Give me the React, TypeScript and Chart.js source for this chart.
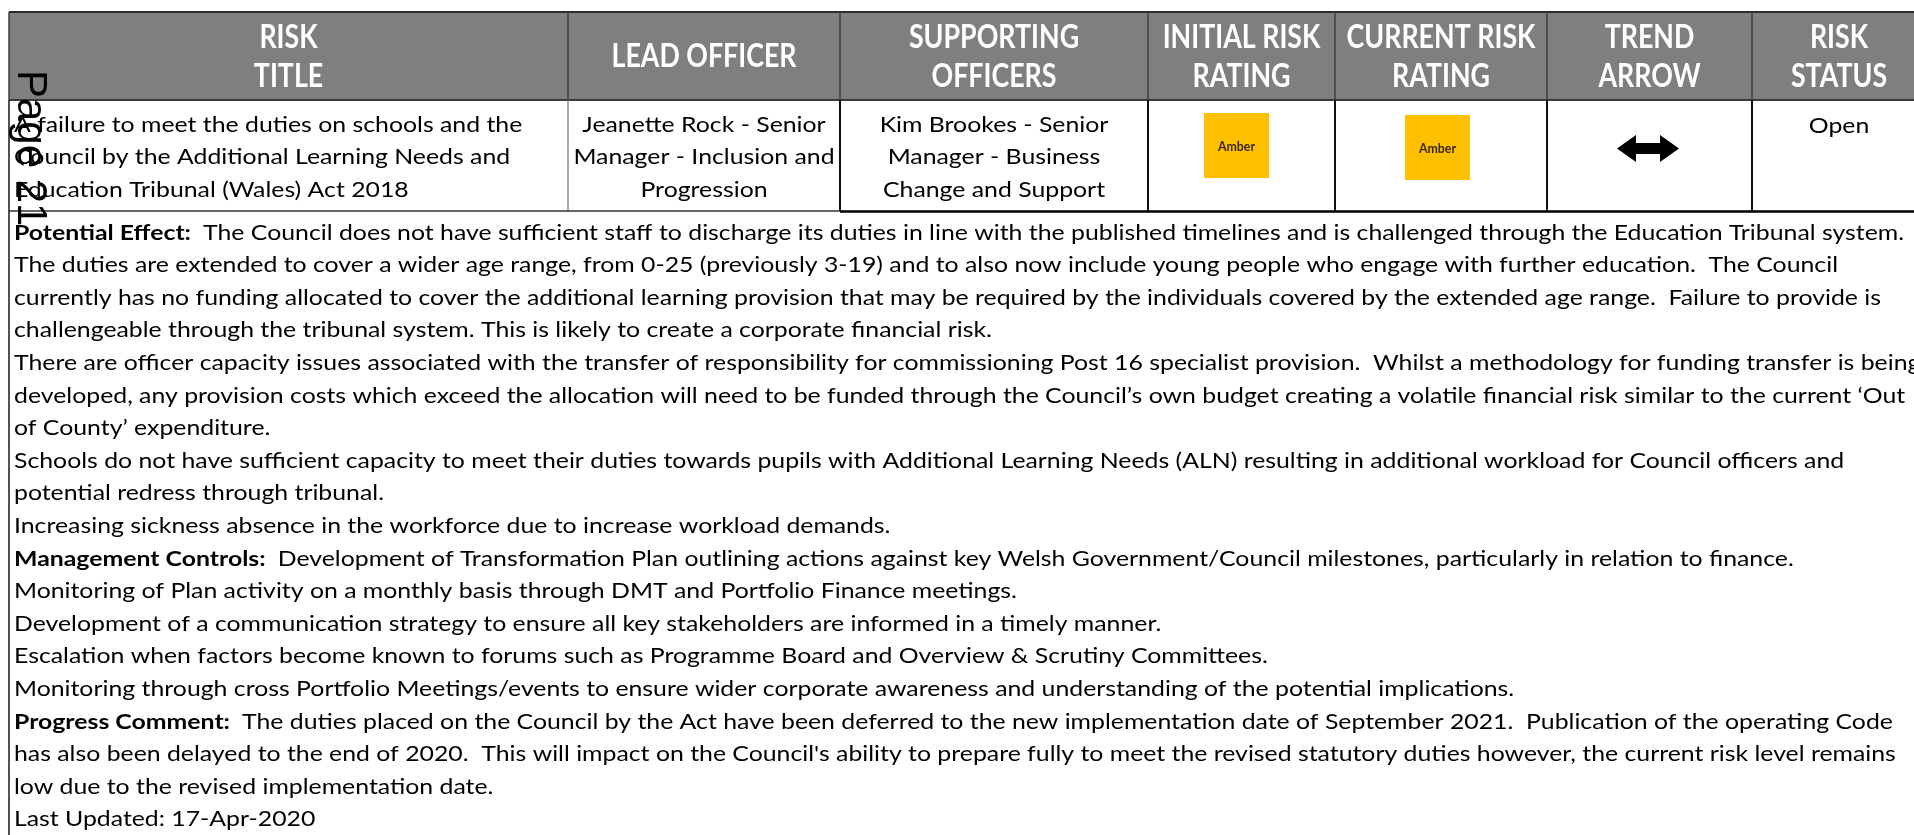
import React, { useEffect, useRef } from "react";
import { Chart, registerables } from "chart.js";

Chart.register(...registerables);

// ---------- DATA ----------
const headerLabels: string[][] = [
  ["RISK", "TITLE"],
  ["LEAD OFFICER"],
  ["SUPPORTING", "OFFICERS"],
  ["INITIAL RISK", "RATING"],
  ["CURRENT RISK", "RATING"],
  ["TREND", "ARROW"],
  ["RISK", "STATUS"],
];

const riskTitleLines = [
  "A failure to meet the duties on schools and the",
  "Council by the Additional Learning Needs and",
  "Education Tribunal (Wales) Act 2018",
];
const leadOfficerLines = ["Jeanette Rock - Senior", "Manager - Inclusion and", "Progression"];
const supportingOfficerLines = ["Kim Brookes - Senior", "Manager - Business", "Change and Support"];
const initialRiskRating = "Amber";
const currentRiskRating = "Amber";
const trendArrow = "level"; // double-headed horizontal arrow
const riskStatus = "Open";

const sectionLabels = ["Potential Effect:", "Management Controls:", "Progress Comment:", "Last Updated:"];

const potentialEffectLines = [
  "The Council does not have sufficient staff to discharge its duties in line with the published timelines and is challenged through the Education Tribunal system.",
  "The duties are extended to cover a wider age range, from 0-25 (previously 3-19) and to also now include young people who engage with further education.  The Council",
  "currently has no funding allocated to cover the additional learning provision that may be required by the individuals covered by the extended age range.  Failure to provide is",
  "challengeable through the tribunal system. This is likely to create a corporate financial risk.",
  "There are officer capacity issues associated with the transfer of responsibility for commissioning Post 16 specialist provision.  Whilst a methodology for funding transfer is being",
  "developed, any provision costs which exceed the allocation will need to be funded through the Council\u2019s own budget creating a volatile financial risk similar to the current \u2018Out",
  "of County\u2019 expenditure.",
  "Schools do not have sufficient capacity to meet their duties towards pupils with Additional Learning Needs (ALN) resulting in additional workload for Council officers and",
  "potential redress through tribunal.",
  "Increasing sickness absence in the workforce due to increase workload demands.",
];
const managementControlsLines = [
  "Development of Transformation Plan outlining actions against key Welsh Government/Council milestones, particularly in relation to finance.",
  "Monitoring of Plan activity on a monthly basis through DMT and Portfolio Finance meetings.",
  "Development of a communication strategy to ensure all key stakeholders are informed in a timely manner.",
  "Escalation when factors become known to forums such as Programme Board and Overview & Scrutiny Committees.",
  "Monitoring through cross Portfolio Meetings/events to ensure wider corporate awareness and understanding of the potential implications.",
];
const progressCommentLines = [
  "The duties placed on the Council by the Act have been deferred to the new implementation date of September 2021.  Publication of the operating Code",
  "has also been delayed to the end of 2020.  This will impact on the Council's ability to prepare fully to meet the revised statutory duties however, the current risk level remains",
  "low due to the revised implementation date.",
];
const lastUpdatedValue = "17-Apr-2020";
const pageMarker = "Page 21";

// ---------- LAYOUT / STYLE ----------
const W = 1914;
const H = 835;
const COLS = [9, 568, 840, 1148, 1335, 1547, 1752, 1926];
const HEAD_TOP = 12;
const HEAD_BOTTOM = 100;
const ROW_BOTTOM = 211;
const HEAD_BG = "#7f7f7f";
const FONT_BODY = "Lato, 'Open Sans', sans-serif";

const tablePlugin = {
  id: "riskTable",
  afterDraw(chart: any) {
    const ctx: CanvasRenderingContext2D = chart.ctx;
    const xs = chart.scales.x;
    const ys = chart.scales.y;
    const X = (v: number) => xs.getPixelForValue(v);
    const Y = (v: number) => ys.getPixelForValue(v);

    const bodyFont = `20.5px ${FONT_BODY}`;
    const bodyBold = `bold 20.5px ${FONT_BODY}`;
    const headFont = `bold 31.5px ${FONT_BODY}`;

    // horizontal scale factors to match the original (Calibri) metrics
    ctx.font = bodyBold;
    const wl = ctx.measureText(sectionLabels[0] + "  ").width;
    ctx.font = bodyFont;
    const wr = ctx.measureText(potentialEffectLines[0]).width;
    const sx = (X(1904) - X(14)) / (wl + wr);
    ctx.font = headFont;
    const sxH = (X(797) - X(612)) / ctx.measureText("LEAD OFFICER").width;

    const text = (
      s: string,
      x: number,
      y: number,
      font: string,
      color: string,
      align: "left" | "center",
      scale: number
    ) => {
      ctx.save();
      ctx.font = font;
      ctx.fillStyle = color;
      ctx.textBaseline = "middle";
      ctx.textAlign = "left";
      const w = ctx.measureText(s).width * scale;
      const x0 = align === "center" ? x - w / 2 : x;
      ctx.translate(x0, y);
      ctx.scale(scale, 1);
      ctx.fillText(s, 0, 0);
      ctx.restore();
      return w;
    };
    const line = (x1: number, y1: number, x2: number, y2: number, color: string, lw: number) => {
      ctx.save();
      ctx.strokeStyle = color;
      ctx.lineWidth = lw;
      ctx.beginPath();
      ctx.moveTo(x1, y1);
      ctx.lineTo(x2, y2);
      ctx.stroke();
      ctx.restore();
    };

    ctx.save();
    ctx.fillStyle = "#ffffff";
    ctx.fillRect(0, 0, chart.width, chart.height);
    ctx.restore();

    // header band
    ctx.fillStyle = HEAD_BG;
    ctx.fillRect(X(COLS[0]), Y(HEAD_TOP), X(COLS[7]) - X(COLS[0]), Y(HEAD_BOTTOM) - Y(HEAD_TOP));
    headerLabels.forEach((lbls, i) => {
      const cx = (X(COLS[i]) + X(COLS[i + 1])) / 2;
      if (lbls.length === 1) {
        text(lbls[0], cx, Y(57), headFont, "#ffffff", "center", sxH);
      } else {
        text(lbls[0], cx, Y(37.5), headFont, "#ffffff", "center", sxH);
        text(lbls[1], cx, Y(77), headFont, "#ffffff", "center", sxH);
      }
    });
    // header grid
    line(X(COLS[0]), Y(HEAD_TOP), X(COLS[7]), Y(HEAD_TOP), "#2b2b2b", 2);
    line(X(COLS[0]), Y(HEAD_BOTTOM), X(COLS[7]), Y(HEAD_BOTTOM), "#3a3a3a", 2);
    for (let i = 0; i < 7; i++) {
      line(X(COLS[i]), Y(HEAD_TOP), X(COLS[i]), Y(HEAD_BOTTOM), "#3f3f3f", 1.5);
    }

    // row 1 texts
    const rowY = [125, 157.5, 190];
    riskTitleLines.forEach((s, k) => text(s, X(14), Y(rowY[k]), bodyFont, "#000", "left", sx));
    const c1 = (X(COLS[1]) + X(COLS[2])) / 2;
    leadOfficerLines.forEach((s, k) => text(s, c1, Y(rowY[k]), bodyFont, "#000", "center", sx));
    const c2 = (X(COLS[2]) + X(COLS[3])) / 2;
    supportingOfficerLines.forEach((s, k) => text(s, c2, Y(rowY[k]), bodyFont, "#000", "center", sx));

    // ratings
    const amberBox = (label: string, x0: number, y0: number) => {
      ctx.fillStyle = "#ffc000";
      ctx.fillRect(X(x0), Y(y0), X(x0 + 65) - X(x0), Y(y0 + 65) - Y(y0));
      text(label, X(x0 + 32.5), Y(y0 + 33.5), `bold 13px ${FONT_BODY}`, "#3a2800", "center", 0.95);
    };
    amberBox(initialRiskRating, 1204, 113);
    amberBox(currentRiskRating, 1405, 115);

    // trend arrow
    if (trendArrow === "level") {
      const cx = X(1648);
      const cy = Y(148.5);
      const half = 31;
      const head = 19;
      const hh = 13.5;
      const sh = 5.5;
      ctx.save();
      ctx.fillStyle = "#000";
      ctx.beginPath();
      ctx.moveTo(cx - half, cy);
      ctx.lineTo(cx - half + head, cy - hh);
      ctx.lineTo(cx - half + head, cy - sh);
      ctx.lineTo(cx + half - head, cy - sh);
      ctx.lineTo(cx + half - head, cy - hh);
      ctx.lineTo(cx + half, cy);
      ctx.lineTo(cx + half - head, cy + hh);
      ctx.lineTo(cx + half - head, cy + sh);
      ctx.lineTo(cx - half + head, cy + sh);
      ctx.lineTo(cx - half + head, cy + hh);
      ctx.closePath();
      ctx.fill();
      ctx.restore();
    }
    // status
    text(riskStatus, (X(COLS[6]) + X(COLS[7])) / 2, Y(126), bodyFont, "#000", "center", sx);

    // row 1 grid
    line(X(COLS[0]), Y(HEAD_BOTTOM), X(COLS[0]), Y(H), "#1a1a1a", 1.5);
    line(X(COLS[1]), Y(HEAD_BOTTOM), X(COLS[1]), Y(ROW_BOTTOM), "#6f6f6f", 1.2);
    for (let i = 2; i < 7; i++) {
      line(X(COLS[i]), Y(HEAD_BOTTOM), X(COLS[i]), Y(ROW_BOTTOM), "#111111", 2);
    }
    line(X(COLS[0]), Y(ROW_BOTTOM), X(COLS[2]), Y(ROW_BOTTOM), "#333333", 1.5);
    line(X(COLS[2]), Y(ROW_BOTTOM + 0.5), X(COLS[7]), Y(ROW_BOTTOM + 0.5), "#000000", 2.5);

    // body paragraphs
    const firstY = 233;
    const step = 32.6;
    let li = 0;
    const drawSection = (label: string | null, lines: string[]) => {
      lines.forEach((s, k) => {
        const y = Y(firstY + step * li);
        let x = X(14);
        if (k === 0 && label) {
          x += text(label + "  ", x, y, bodyBold, "#000", "left", sx);
        }
        text(s, x, y, bodyFont, "#000", "left", sx);
        li++;
      });
    };
    drawSection(sectionLabels[0], potentialEffectLines);
    drawSection(sectionLabels[1], managementControlsLines);
    drawSection(sectionLabels[2], progressCommentLines);
    {
      const y = Y(firstY + step * li);
      text(sectionLabels[3] + " " + lastUpdatedValue, X(14), y, bodyFont, "#000", "left", sx);
    }

    // rotated page marker
    ctx.save();
    ctx.translate(X(18), Y(70));
    ctx.rotate(Math.PI / 2);
    ctx.font = "42px 'Liberation Sans', Arial, sans-serif";
    ctx.fillStyle = "#000";
    ctx.textBaseline = "alphabetic";
    ctx.textAlign = "left";
    ctx.fillText(pageMarker, 0, 0);
    ctx.restore();
  },
};

export default function App() {
  const ref = useRef<HTMLCanvasElement | null>(null);
  useEffect(() => {
    document.body.style.margin = "0";
    document.body.style.overflow = "hidden";
    const canvas = ref.current;
    if (!canvas) return;
    const chart = new Chart(canvas, {
      type: "scatter",
      data: { datasets: [] },
      options: {
        animation: false,
        responsive: false,
        maintainAspectRatio: false,
        devicePixelRatio: 1,
        layout: { padding: 0 },
        events: [],
        plugins: { legend: { display: false }, tooltip: { enabled: false }, title: { display: false } },
        scales: {
          x: { type: "linear", min: 0, max: W, display: false },
          y: { type: "linear", min: 0, max: H, reverse: true, display: false },
        },
      },
      plugins: [tablePlugin],
    });
    return () => chart.destroy();
  }, []);
  return (
    <div style={{ width: W, height: H }}>
      <canvas ref={ref} width={W} height={H} style={{ display: "block", width: W, height: H }} />
    </div>
  );
}
